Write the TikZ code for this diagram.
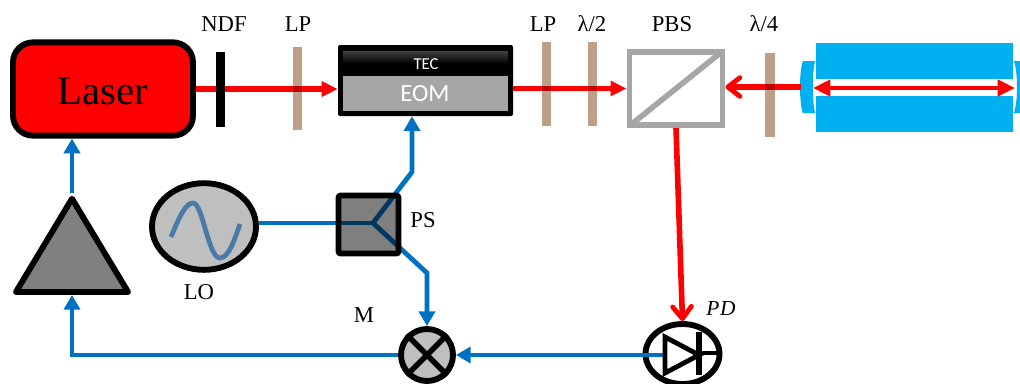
\documentclass[tikz,border=0pt]{standalone}
\usepackage{fontspec}
\setmainfont{Liberation Serif}
\newfontfamily\calibrifont{Carlito}
\usetikzlibrary{arrows.meta,shapes.geometric}
\definecolor{beamblue}{HTML}{0070C0}
\definecolor{cavblue}{HTML}{00B0F0}
\definecolor{platetan}{HTML}{BF9F87}
\tikzset{
	redbeam/.style={red, line width=4.2pt},
	redtip/.style={-{Triangle[length=12pt,width=11pt]}},
	redbarb/.style={-{Straight Barb[round,length=9pt,width=14pt,line width=3.6pt]}},
	signal/.style={beamblue, line width=3.6pt, -{Triangle[length=11pt,width=12pt]}},
	wire/.style={beamblue, line width=3.6pt},
	plate/.style={rectangle, fill=platetan, inner sep=0pt, minimum width=7pt},
	block/.style={draw=black, line width=4.4pt, inner sep=0pt},
	lab/.style={anchor=base, inner sep=0pt, font=\fontsize{17}{20}\selectfont}
}
\begin{document}
\begin{tikzpicture}[x=0.75pt, y=-0.75pt]
	\useasboundingbox (0, 0) rectangle (1020, 383);
	\clip (0, 0) rectangle (1020, 383);

	% sources and modulator
	\node [block, fill=red, rounded corners=15pt, minimum width=135pt, minimum height=70pt] (laser) at (103, 89) {};
	\node [anchor=base, inner sep=0pt, font=\fontsize{30.5}{36}\selectfont] (lasertext) at (103, 104) {Laser};
	\node [fill=black, rounded corners=1.5pt, inner sep=0pt, minimum width=131.25pt, minimum height=53.25pt] (eom) at (425.5, 80.5) {};
	\node [inner sep=0pt, top color=black!75, bottom color=black, middle color=black, minimum width=123.75pt, minimum height=18.75pt] (tec) at (425.5, 63.5) {};
	\node [fill=black!35, inner sep=0pt, minimum width=123.75pt, minimum height=26.25pt] (eomfill) at (425.5, 93.5) {};
	\node [anchor=base, inner sep=0pt, text=white, font=\calibrifont\fontsize{12.5}{15}\selectfont] (tectext) at (426, 69) {TEC};
	\node [anchor=base, inner sep=0pt, text=white, font=\calibrifont\fontsize{18.5}{22}\selectfont] (eomtext) at (425, 101) {EOM};

	% cube, detector, mixer, oscillator, amplifier
	\node [draw=black!35, line width=4.2pt, inner sep=0pt, minimum width=70pt, minimum height=55pt] (pbs) at (676, 88.5) {};
	\draw [black!35, line width=4.2pt] ([shift={(4, -3)}]pbs.south west) -- ([shift={(-4, 3)}]pbs.north east);
	\node [block, ellipse, minimum width=55.5pt, minimum height=45pt] (pd) at (682.5, 354) {};
	\node [block, circle, fill=black!25, minimum size=39pt] (mixer) at (427, 355) {};
	\draw [black, line width=4.2pt] (mixer.north west) -- (mixer.south east);
	\draw [black, line width=4.2pt] (mixer.north east) -- (mixer.south west);
	\node [block, ellipse, fill=black!25, minimum width=78pt, minimum height=65pt] (lo) at (204, 226.5) {};
	\draw [color={rgb,255:red,74;green,123;blue,167}, line width=3.6pt] (171, 237) .. controls (180, 215) and (186, 203) .. (193, 203) .. controls (203, 203) and (208, 258) .. (220, 258) .. controls (229, 258) and (235, 238) .. (240, 224);
	\node [block, fill=black!50, isosceles triangle, isosceles triangle apex angle=62, shape border rotate=90, anchor=apex, line join=round, minimum height=70pt, minimum width=83pt] (amp) at (72, 193) {};

	% cavity
	\node [fill=cavblue, inner sep=0pt, minimum width=147.75pt, minimum height=27pt] (cavtop) at (914.5, 61) {};
	\node [fill=cavblue, inner sep=0pt, minimum width=147.75pt, minimum height=27pt] (cavbot) at (914.5, 113.5) {};
	\fill [cavblue] (815, 61) -- (803, 61) .. controls (799, 70) and (799, 104) .. (803, 113) -- (815, 113) .. controls (812, 100) and (812, 74) .. (815, 61) -- cycle;
	\fill [cavblue] (1014, 61) -- (1022, 61) -- (1022, 113) -- (1014, 113) .. controls (1018, 100) and (1018, 74) .. (1014, 61) -- cycle;
	\coordinate (mirrorL) at (813, 88);
	\coordinate (mirrorR) at (1015, 88);
	\coordinate (mirrorout) at (801, 87);

	% optical path
	\draw [redbeam, redtip] (laser.east) -- (laser.east -| eom.west);
	\draw [redbeam, redtip] (pbs.west -| eom.east) -- (pbs.west);
	\draw [redbeam, redbarb] (mirrorout) -- (mirrorout -| pbs.east);
	\draw [redbeam, redbarb] (pbs.south) -- (pd.north);
	\draw [red, line width=3.6pt, {Triangle[length=13pt,width=12pt]}-{Triangle[length=13pt,width=12pt]}] (mirrorL) -- (mirrorR);
	\node [fill=black, inner sep=0pt, minimum width=7pt, minimum height=56.25pt] (ndf) at (220.5, 89.5) {};
	\begin{scope}[blend mode=multiply]
		\node [plate, minimum height=62.25pt] (lpa) at (297.5, 88.5) {};
		\node [plate, minimum height=63pt] (lpb) at (546.5, 84) {};
		\node [plate, minimum height=63pt] (halfwave) at (592.5, 84) {};
		\node [plate, minimum height=63pt] (quarterwave) at (770, 95) {};
	\end{scope}

	% electrical path
	\coordinate (psfork) at (373, 223);
	\coordinate (psup) at (412, 172);
	\coordinate (psdown) at (427, 273);
	\coordinate (pdin) at (665, 355);
	\draw [wire] (psfork -| lo.east) -- (psfork);
	\draw [signal] (psfork) -- (psup) -- (psup |- eom.south);
	\draw [signal] (psfork) -- (psdown) -- (mixer.north);
	\node [draw=black, fill=black, fill opacity=0.5, line width=4.2pt, rounded corners=1.5pt, inner sep=0pt, minimum width=45pt, minimum height=43.5pt] (ps) at (368.5, 224.5) {};
	\draw [signal] (pdin) -- (mixer.east);
	\draw [signal] (mixer.west) -| (amp.south);
	\draw [signal] (amp.apex) -- (amp.apex |- laser.south);

	% diode symbol
	\draw [black, line width=3.6pt, line join=miter] (665, 337) -- (665, 373) -- (699, 355) -- cycle;
	\draw [black, line width=3.8pt] (699, 332) -- (699, 375);
	\draw [black, line width=3pt] (699, 353) -- (pd.east |- 699, 353);

	% labels
	\node [lab] (ndflabel) at (224, 31) {NDF};
	\node [lab] (lpalabel) at (298, 31) {LP};
	\node [lab] (lpblabel) at (543, 31) {LP};
	\node [lab] (halflabel) at (592, 31) {λ/2};
	\node [lab] (pbslabel) at (672, 31) {PBS};
	\node [lab] (quarterlabel) at (764, 31) {λ/4};
	\node [lab] (pslabel) at (423, 227) {PS};
	\node [lab] (lolabel) at (199, 299) {LO};
	\node [lab] (mlabel) at (364, 322) {M};
	\node [anchor=base, inner sep=0pt, font=\itshape\fontsize{16}{18}\selectfont] (pdlabel) at (721, 315) {P\kern0.6pt D};
\end{tikzpicture}
\end{document}
